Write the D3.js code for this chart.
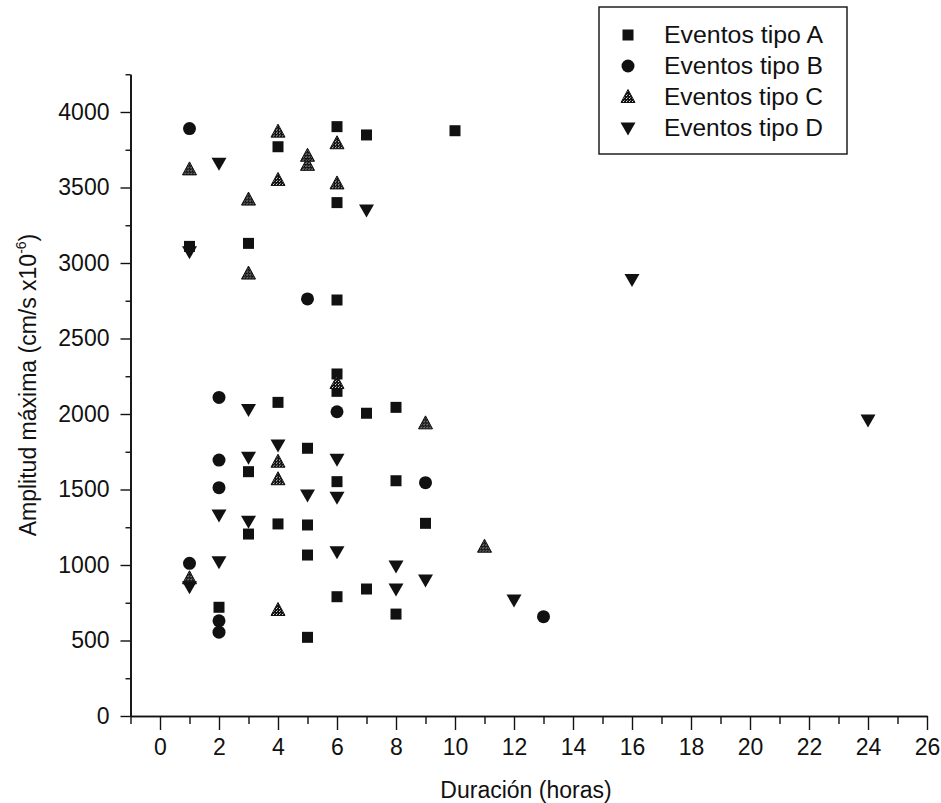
<!DOCTYPE html>
<html><head><meta charset="utf-8">
<script src="https://cdn.jsdelivr.net/npm/d3@7"></script>
<style>body{margin:0;background:#fff}text{font-family:"Liberation Sans",Arial,sans-serif;fill:#111}</style>
</head><body>
<svg id="chart" width="941" height="803"></svg>
<script>
// ---- data ----
const xMajorTicks = [0,2,4,6,8,10,12,14,16,18,20,22,24,26];
const xMinorTicks = [-1,1,3,5,7,9,11,13,15,17,19,21,23,25];
const yMajorTicks = [0,500,1000,1500,2000,2500,3000,3500,4000];
const yMinorTicks = [250,750,1250,1750,2250,2750,3250,3750,4250];
const seriesNames = ["Eventos tipo A","Eventos tipo B","Eventos tipo C","Eventos tipo D"];

const durA = [1,2,3,3,3,4,4,4,5,5,5,5,6,6,6,6,6,6,6,7,7,7,8,8,8,9,10];
const ampA = [3110,720,3130,1618,1205,3770,2077,1272,1773,1265,1066,521,3903,3400,2755,2265,2150,1552,790,3848,2005,841,2044,1558,675,1276,3876];

const durB = [1,1,2,2,2,2,2,5,6,9,13];
const ampB = [3890,1011,2110,1695,1512,630,555,2762,2015,1545,658];

const durC = [1,1,3,3,4,4,4,4,4,5,5,6,6,6,9,11];
const ampC = [3620,912,3420,2930,3870,3550,1684,1568,702,3710,3650,3793,3527,2205,1938,1121];

const durD = [1,1,2,2,2,3,3,3,4,5,6,6,6,7,8,8,9,12,16,24];
const ampD = [3075,856,3660,1331,1022,2030,1713,1290,1795,1464,1700,1448,1088,3351,993,841,900,768,2890,1960];

// ---- chart ----
const svg = d3.select("#chart");
const x = d3.scaleLinear().domain([-1, 26]).range([130.5, 927]);
const y = d3.scaleLinear().domain([0, 4250]).range([716, 74.25]);
const FONT = '"Liberation Sans",Arial,sans-serif';

const defs = svg.append("defs");
const pat = defs.append("pattern").attr("id","dither").attr("width",3).attr("height",3).attr("patternUnits","userSpaceOnUse");
pat.append("rect").attr("width",3).attr("height",3).attr("fill","#111");
pat.append("rect").attr("x",1).attr("y",1).attr("width",1).attr("height",1).attr("fill","#ddd");
pat.append("rect").attr("x",2).attr("y",0).attr("width",1).attr("height",1).attr("fill","#888");

// axes
const gx = svg.append("g").attr("transform","translate(0,716)");
gx.call(d3.axisBottom(x).tickValues(xMajorTicks).tickSize(14).tickSizeOuter(0).tickPadding(9).tickFormat(d3.format("d")));
gx.append("g").call(d3.axisBottom(x).tickValues(xMinorTicks).tickSize(8).tickSizeOuter(0).tickFormat(""));
gx.selectAll("text").attr("font-size",23).attr("fill","#111").attr("font-family",FONT);

const gy = svg.append("g").attr("transform","translate(130.5,0)");
gy.call(d3.axisLeft(y).tickValues(yMajorTicks).tickSize(10).tickSizeOuter(0).tickPadding(11).tickFormat(d3.format("d")));
gy.append("g").call(d3.axisLeft(y).tickValues(yMinorTicks).tickSize(5).tickSizeOuter(0).tickFormat(""));
gy.selectAll("text").attr("font-size",23).attr("fill","#111").attr("font-family",FONT);

svg.selectAll(".domain").attr("stroke","#111").attr("stroke-width",1.6);
svg.selectAll(".tick line").attr("stroke","#111").attr("stroke-width",1.4);

// axis titles
svg.append("text").attr("x",526).attr("y",798).attr("text-anchor","middle").attr("font-size",23).text("Duración (horas)");
const yt = svg.append("text").attr("transform","translate(36,385) rotate(-90)").attr("text-anchor","middle").attr("font-size",23);
yt.append("tspan").text("Amplitud máxima (cm/s x10");
yt.append("tspan").attr("font-size",14).attr("dy",-10).text("-6");
yt.append("tspan").attr("dy",10).text(")");

// marker shapes
const shapes = [
  (g) => g.append("rect").attr("x",-5.5).attr("y",-5.5).attr("width",11).attr("height",11).attr("fill","#111"),
  (g) => g.append("circle").attr("r",6.5).attr("fill","#111"),
  (g) => g.append("path").attr("d","M0,-7.5L7,5.5L-7,5.5Z").attr("fill","url(#dither)").attr("stroke","#111").attr("stroke-width",1),
  (g) => g.append("path").attr("d","M-7.5,-5.5L7.5,-5.5L0,7.5Z").attr("fill","#111")
];

const series = [[durA,ampA],[durB,ampB],[durC,ampC],[durD,ampD]];
series.forEach(([xs,ys],i) => {
  const g = svg.append("g");
  xs.forEach((d,j) => {
    const m = g.append("g").attr("transform",`translate(${x(d)},${y(ys[j])})`);
    shapes[i](m);
  });
});

// legend
const lg = svg.append("g");
lg.append("rect").attr("x",599).attr("y",7).attr("width",248).attr("height",147).attr("fill","#fff").attr("stroke","#111").attr("stroke-width",1.4);
seriesNames.forEach((name,i) => {
  const cy = 35 + i*31;
  const m = lg.append("g").attr("transform",`translate(628,${cy})`);
  shapes[i](m);
  lg.append("text").attr("x",664).attr("y",cy+8).attr("font-size",23).attr("textLength",159).attr("lengthAdjust","spacingAndGlyphs").text(name);
});
</script>
</body></html>
